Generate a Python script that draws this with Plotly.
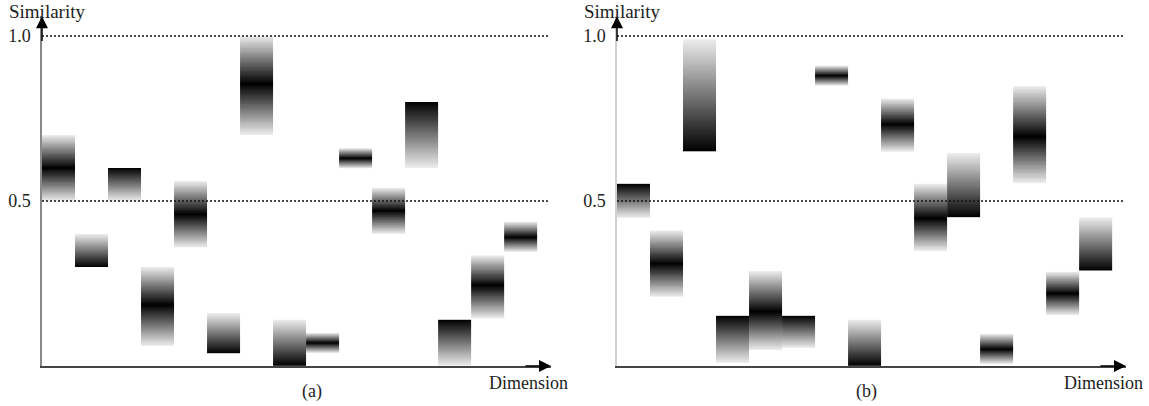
import numpy as np
import plotly.graph_objects as go

# ---------------- data ----------------
# Panel (a): 15 dimensions, similarity interval [low, high] and the darkest (peak) value
a_low = [0.50, 0.30, 0.50, 0.06, 0.36, 0.04, 0.70, 0.00, 0.04, 0.60, 0.40, 0.60, 0.00, 0.145, 0.345]
a_high = [0.70, 0.40, 0.60, 0.30, 0.56, 0.16, 1.00, 0.14, 0.10, 0.66, 0.54, 0.80, 0.14, 0.335, 0.437]
a_peak = [0.60, 0.30, 0.60, 0.185, 0.46, 0.04, 0.855, 0.00, 0.07, 0.63, 0.47, 0.80, 0.14, 0.245, 0.39]

# Panel (b)
b_low = [0.45, 0.21, 0.65, 0.01, 0.05, 0.055, 0.85, 0.00, 0.65, 0.35, 0.45, 0.005, 0.554, 0.155, 0.29]
b_high = [0.552, 0.41, 0.99, 0.152, 0.288, 0.152, 0.91, 0.14, 0.81, 0.552, 0.645, 0.097, 0.848, 0.285, 0.45]
b_peak = [0.552, 0.31, 0.65, 0.152, 0.165, 0.152, 0.88, 0.00, 0.733, 0.448, 0.45, 0.05, 0.695, 0.22, 0.29]

y_ticks = [0.5, 1.0]
y_tick_text = ["0.5", "1.0"]
panel_labels = ["(a)", "(b)"]

# ---------------- figure ----------------
W, H = 1149, 406
FONT = "Liberation Serif, Times New Roman, serif"
fig = go.Figure()

GRAY = [[0.0, "#ffffff"], [1.0, "#000000"]]


def darkness(yc, lo, hi, pk):
    out = []
    for y in yc:
        if y >= pk:
            t = (y - pk) / (hi - pk) if hi > pk else 0.0
        else:
            t = (pk - y) / (pk - lo) if pk > lo else 0.0
        out.append(1.0 - 0.93 * min(max(t, 0.0), 1.0))
    return out


def add_panel(lows, highs, peaks, xa, ya):
    for i, (lo, hi, pk) in enumerate(zip(lows, highs, peaks)):
        edges = np.linspace(lo, hi, 121)
        centers = 0.5 * (edges[:-1] + edges[1:])
        d = darkness(centers, lo, hi, pk)
        fig.add_trace(go.Heatmap(
            x=[i, i + 1], y=edges, z=[[v] for v in d],
            colorscale=GRAY, zmin=0, zmax=1, showscale=False,
            hoverinfo="skip", xaxis=xa, yaxis=ya,
        ))


add_panel(a_low, a_high, a_peak, "x", "y")
add_panel(b_low, b_high, b_peak, "x2", "y2")

XR = [0, 15.42]
YR = [0, 1.06]
ydom = [1 - 366 / H, 1 - (366 - 1.06 * 330) / H]

common_x = dict(range=XR, showgrid=False, zeroline=False, showticklabels=False,
                ticks="", showline=True, linecolor="#444444", linewidth=1.5, fixedrange=True)
common_y = dict(range=YR, showgrid=False, zeroline=False, tickvals=y_ticks, ticktext=y_tick_text,
                ticks="", tickfont=dict(family=FONT, size=18, color="#222"),
                ticklabelstandoff=6,
                showline=True, linewidth=1.5, fixedrange=True)

fig.update_layout(
    width=W, height=H,
    margin=dict(l=0, r=0, t=0, b=0),
    paper_bgcolor="white", plot_bgcolor="rgba(0,0,0,0)",
    showlegend=False,
    xaxis=dict(domain=[42 / W, 551 / W], anchor="y", **common_x),
    yaxis=dict(domain=ydom, anchor="x", linecolor="#888888", **common_y),
    xaxis2=dict(domain=[617 / W, 1126 / W], anchor="y2", **common_x),
    yaxis2=dict(domain=ydom, anchor="x2", linecolor="#d0d0d0", **common_y),
)

shapes = []
annotations = []
for xr, yr, xp, lab in [("x", "y", 0, panel_labels[0]), ("x2", "y2", 1, panel_labels[1])]:
    for v in y_ticks:
        shapes.append(dict(type="line", xref=xr, yref=yr, x0=0, x1=15.38, y0=v, y1=v,
                           line=dict(color="#111", width=1.6, dash="2px,2px"), layer="above"))
    # axis arrows
    annotations.append(dict(xref=xr, yref=yr, axref=xr, ayref=yr, x=0, y=1.06, ax=0, ay=0.98,
                            text="", showarrow=True, arrowhead=2, arrowsize=1.6, arrowwidth=1.5,
                            arrowcolor="black"))
    annotations.append(dict(xref=xr, yref=yr, axref=xr, ayref=yr, x=15.42, y=0, ax=14.6, ay=0,
                            text="", showarrow=True, arrowhead=2, arrowsize=1.6, arrowwidth=1.5,
                            arrowcolor="black"))
    off = 0 if xp == 0 else 575
    annotations.append(dict(xref="paper", yref="paper", x=(7 + off) / W, y=1 - 12 / H,
                            xanchor="left", yanchor="middle", text="Similarity", showarrow=False,
                            font=dict(family=FONT, size=19, color="#222")))
    annotations.append(dict(xref="paper", yref="paper", x=(487 + off) / W, y=1 - 383 / H,
                            xanchor="left", yanchor="middle", text="Dimension", showarrow=False,
                            font=dict(family=FONT, size=18, color="#222")))
    annotations.append(dict(xref="paper", yref="paper", x=(312 + off * 0.965) / W, y=1 - 391 / H,
                            xanchor="center", yanchor="middle", text=lab, showarrow=False,
                            font=dict(family=FONT, size=18, color="#222")))

fig.update_layout(shapes=shapes, annotations=annotations)
fig.write_html("out.html", config={"displayModeBar": False},
               post_script="document.body.style.margin='0';document.body.style.overflow='hidden';")
